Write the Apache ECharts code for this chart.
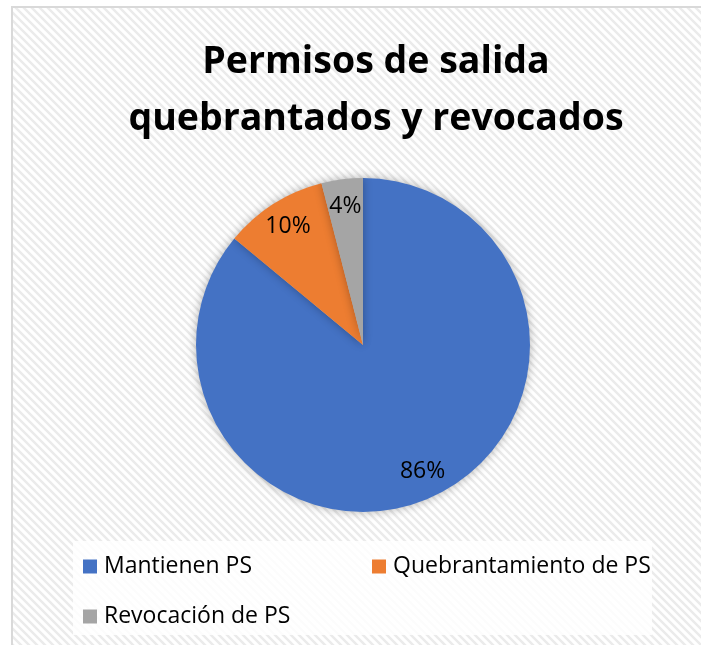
<!DOCTYPE html>
<html>
<head>
<meta charset="utf-8">
<script src="https://cdn.jsdelivr.net/npm/echarts@6/dist/echarts.min.js"></script>
<style>html,body{margin:0;padding:0;background:#fff}#c{width:701px;height:645px}</style>
</head>
<body>
<div id="c"></div>
<script>
const categories = ['Mantienen PS', 'Quebrantamiento de PS', 'Revocación de PS'];
const values = [86, 10, 4];
const colors = ['#4472C4', '#ED7D31', '#A5A5A5'];
const titleText = 'Permisos de salida\nquebrantados y revocados';

// stripe pattern
const pc = document.createElement('canvas');
pc.width = 8; pc.height = 8;
const g = pc.getContext('2d');
g.fillStyle = '#ffffff'; g.fillRect(0, 0, 8, 8);
g.strokeStyle = '#ebebeb'; g.lineWidth = 2.5;
g.beginPath();
g.moveTo(-2, -2); g.lineTo(10, 10);
g.moveTo(-10, -2); g.lineTo(2, 10);
g.moveTo(6, -2); g.lineTo(18, 10);
g.stroke();

const chart = echarts.init(document.getElementById('c'), null, {renderer: 'canvas'});
const data = categories.map((n, i) => ({name: n, value: values[i], itemStyle: {color: colors[i]}}));
const font = '"Open Sans", sans-serif';
const legendPos = [[83, 555], [372, 555], [83, 605]];
const legends = categories.map((n, i) => ({
  data: [n], left: legendPos[i][0], top: legendPos[i][1], padding: 0,
  itemWidth: 14, itemHeight: 14, icon: 'rect', selectedMode: false,
  textStyle: {fontFamily: font, fontSize: 23, color: '#000', padding: [0, 0, 0, 2]}
}));
chart.setOption({
  backgroundColor: '#fff',
  graphic: [{
    type: 'rect', z: -10, silent: true,
    shape: {x: 12, y: 7, width: 720, height: 700},
    style: {fill: {image: pc, repeat: 'repeat'}, stroke: '#d9d9d9', lineWidth: 2}
  }, {
    type: 'rect', z: -9, silent: true,
    shape: {x: 73, y: 541, width: 579, height: 94},
    style: {fill: 'rgba(255,255,255,0.85)'}
  }],
  title: {
    text: titleText, left: 371, textAlign: 'center', top: 29,
    textStyle: {fontFamily: font, fontWeight: 'bold', fontSize: 37.5, lineHeight: 57, color: '#000'}
  },
  legend: legends,
  series: [{
    type: 'pie', center: [363, 345], radius: [0, 167],
    startAngle: 90, clockwise: true,
    silent: true, animation: false,
    data: data,
    label: {show: false}, labelLine: {show: false},
    itemStyle: {shadowBlur: 10, shadowColor: 'rgba(0,0,0,0.3)'}
  }, {
    type: 'pie', center: [363, 345], radius: [107, 167],
    startAngle: 90, clockwise: true,
    silent: true, animation: false,
    data: categories.map((n, i) => ({name: n, value: values[i], itemStyle: {color: 'rgba(0,0,0,0)'}})),
    label: {show: true, position: 'inside', formatter: '{c}%', fontFamily: font, fontSize: 23, color: '#000'},
    labelLine: {show: false},
    legendHoverLink: false
  }]
});
</script>
</body>
</html>
